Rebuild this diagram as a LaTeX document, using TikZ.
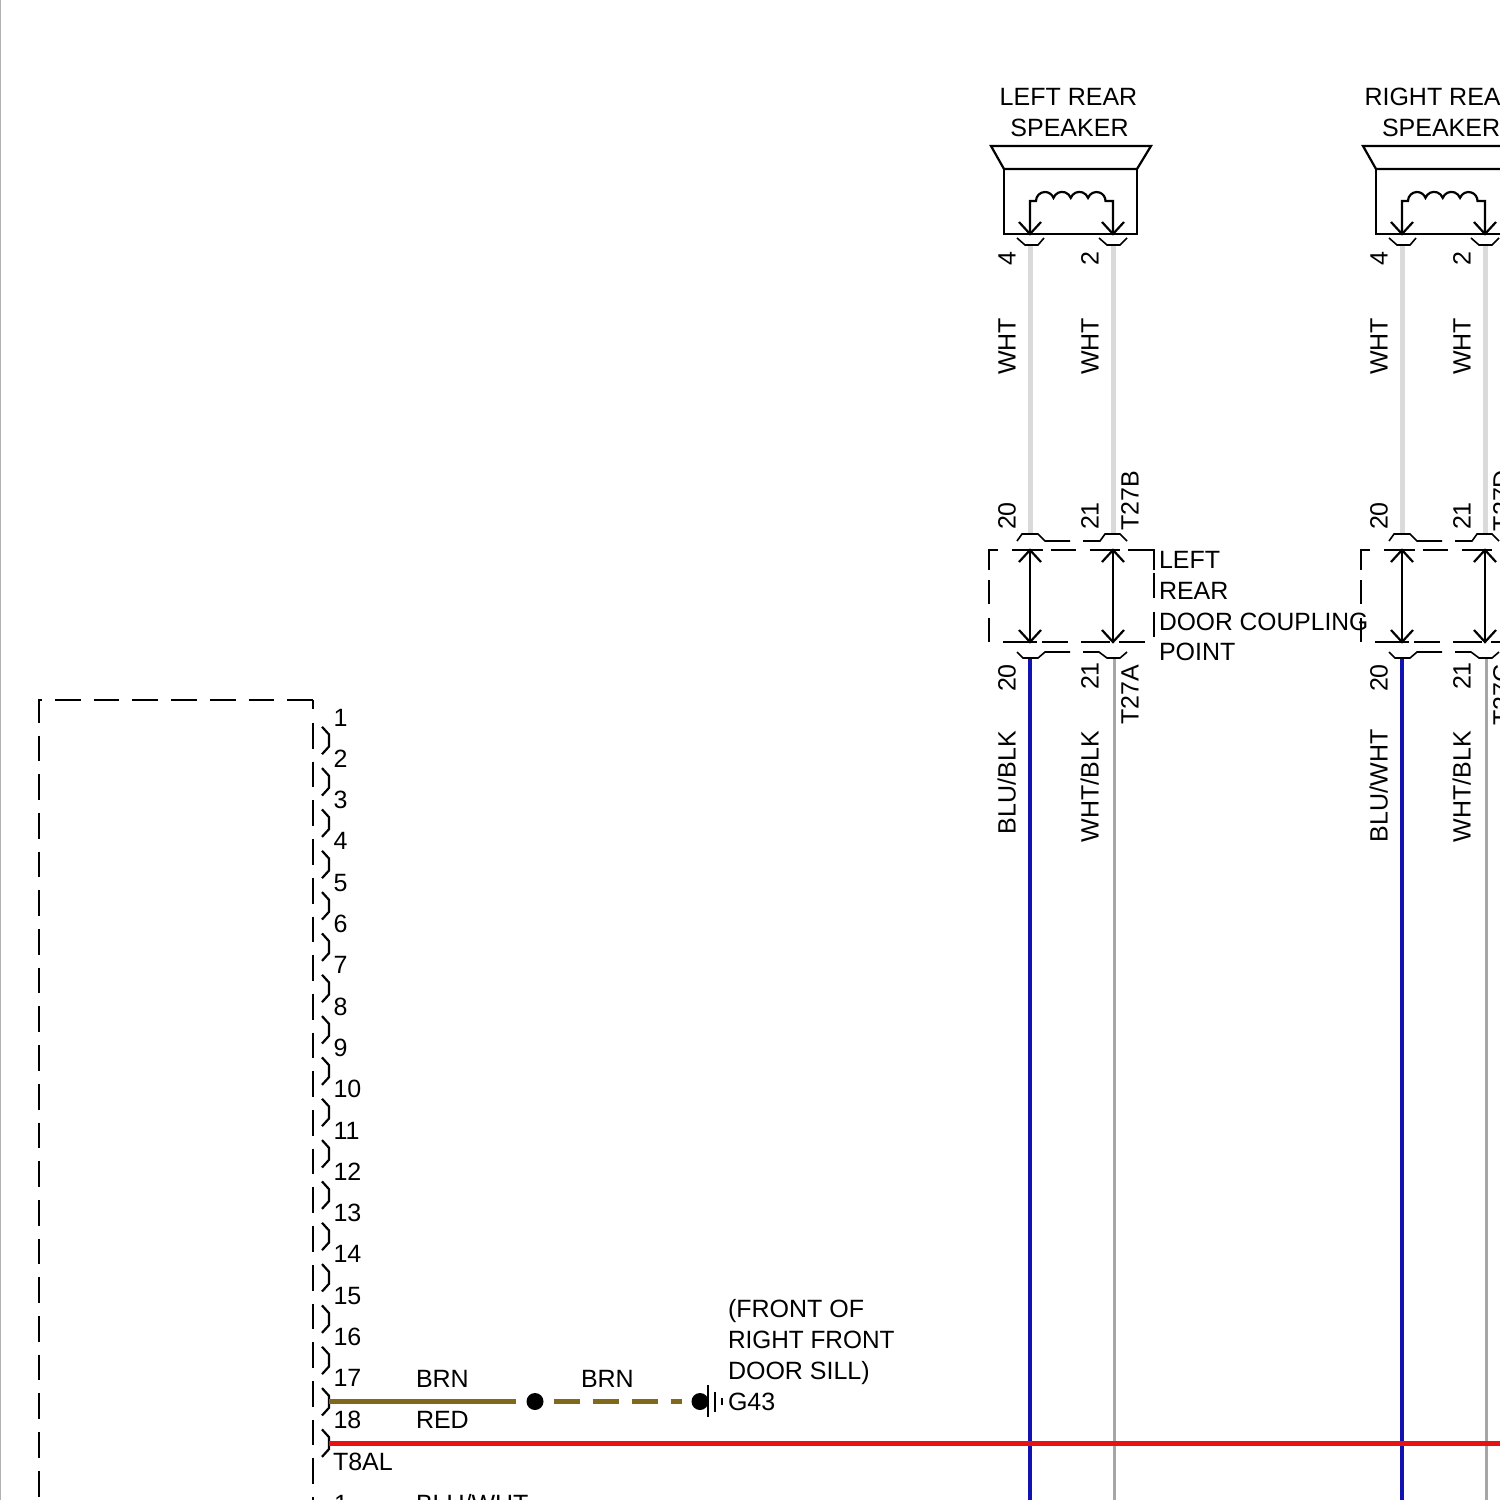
\documentclass[tikz,border=0pt]{standalone}
\usepackage{fontspec}
\setmainfont{Liberation Sans}
\usetikzlibrary{calc}
\definecolor{wht}{HTML}{DADADA}
\definecolor{gryw}{HTML}{A6A6A6}
\definecolor{bluw}{HTML}{1212B0}
\definecolor{brnw}{HTML}{80691A}
\definecolor{redw}{HTML}{E81212}
\tikzset{
  lbl/.style={inner sep=0pt,outer sep=0pt,font=\fontsize{25}{25}\selectfont,text height=18pt,text depth=0pt,anchor=west},
  clbl/.style={lbl,anchor=center},
  vlbl/.style={clbl,rotate=90},
  ink/.style={draw=black,line width=2.2pt,line join=miter},
  thin ink/.style={draw=black,line width=1.6pt},
  long dash/.style={ink,dash pattern=on 25.7pt off 13pt},
  wire/.style={line width=#1pt,line cap=butt},
}
\begin{document}
\begin{tikzpicture}[x=1pt,y=-1pt]
\useasboundingbox (0,0) rectangle (1500,1500);
\clip (0,0) rectangle (1500,1500);
\fill[white] (0,0) rectangle (1500,1500);
\draw[gray!60,line width=1.5pt] (0.5,0) -- (0.5,1500);

% main module
\draw[ink] (39,722.7) -- (39,700) -- (42,700);
\draw[long dash] (39,735.5) -- (39,1500);
\draw[long dash] (55,700) -- (313,700);
\draw[ink] (313,700) -- (313,709);
\draw[long dash] (313,723) -- (313,1500);
\foreach \n in {1,...,18}{
  \pgfmathsetmacro{\yy}{740.5+(\n-1)*41.33}
  \draw[ink] (322,\yy-13.7) -- (329,\yy-6) -- (329,\yy+6) -- (322,\yy+13.7);
  \pgfmathsetmacro{\ty}{717+(\n-1)*41.3}
  \node[lbl] (pin\n) at (333.5,\ty) {\n};
}
\node[lbl] (t8al) at (333,1461) {T8AL};
\node[lbl] (pinb) at (334,1503) {1};
\node[lbl] (bluwhtb) at (416,1503) {BLU/WHT};

% ground run
\node[lbl] (brn1) at (416,1378) {BRN};
\node[lbl] (red1) at (416,1419) {RED};
\node[lbl] (brn2) at (581,1378) {BRN};
\node[lbl] (loc1) at (728,1308) {(FRONT OF};
\node[lbl,xscale=.975] (loc2) at (728,1339) {RIGHT FRONT};
\node[lbl] (loc3) at (728,1370) {DOOR SILL)};
\node[lbl] (g43) at (728,1401) {G43};
\coordinate (s17) at (329,1401.5);
\node[circle,fill=black,inner sep=0pt,minimum size=17pt] (dot1) at (535,1401.5) {};
\node[circle,fill=black,inner sep=0pt,minimum size=17pt] (dot2) at (700,1401.5) {};
\coordinate (b1) at (516,1401.5);
\coordinate (b2) at (553.5,1401.5);
\coordinate (b3) at (682,1401.5);
\draw[brnw,wire=5] (s17) -- (b1);
\draw[brnw,wire=5,dash pattern=on 26pt off 13pt] (b2) -- (b3);
\draw[black,line width=2.2pt] (708,1385) -- (708,1417);
\draw[black,line width=2.2pt] (715,1392) -- (715,1412);
\draw[black,line width=2.2pt] (722,1398) -- (722,1405);

% speaker columns
\foreach \ox/\nm/\blu/\blb/\bt/\ct in {0/a/BLU\slash BLK/834/T27B/T27A,372/b/BLU\slash WHT/842/T27D/T27C}{
  \begin{scope}[shift={(\ox,0)}]
    % wires
    \draw[wht,wire=5] (1030.5,245) -- (1030.5,534);
    \draw[wht,wire=5] (1113.5,245) -- (1113.5,534);
    \draw[bluw,wire=4] (1030,657) -- (1030,1500);
    \draw[gryw,wire=3] (1114,657) -- (1114,1500);
    % speaker
    \draw[ink] (991,146) -- (1151,146) -- (1137,169) -- (1004,169) -- cycle;
    \draw[ink] (1004,169) rectangle (1137,234);
    \draw[ink] (1030,234) -- (1030,201) -- (1036,201)
      arc[start angle=-180,end angle=-20,radius=9]
      arc[start angle=-160,end angle=-20,radius=9.2]
      arc[start angle=-160,end angle=-20,radius=9.2]
      arc[start angle=-160,end angle=0,radius=9] -- (1113,201) -- (1113,234);
    \draw[ink] (1019,222) -- (1030,234) -- (1041,222);
    \draw[ink] (1102,222) -- (1113,234) -- (1124,222);
    \draw[thin ink] (1017,238) -- (1025,245) -- (1038,245) -- (1044,238);
    \draw[thin ink] (1099,238) -- (1107,245) -- (1120,245) -- (1127,238);
    % coupling hats
    \draw[thin ink] (1017,541) -- (1022,534) -- (1038,534) -- (1045,541) -- (1070,541);
    \draw[thin ink] (1083,541) -- (1100,541) -- (1105,534) -- (1120,534) -- (1127,541);
    \draw[thin ink] (1017,652) -- (1023,658) -- (1038,658) -- (1045,652) -- (1070,652);
    \draw[thin ink] (1083,652) -- (1099,652) -- (1107,658) -- (1120,658) -- (1127,652);
    % coupling dashed box
    \draw[ink] (998,550) -- (989,550) -- (989,570);
    \draw[ink] (989,580) -- (989,604);
    \draw[ink] (989,618) -- (989,642);
    \draw[ink] (1012,550) -- (1043,550);
    \draw[ink] (1051,550) -- (1076,550);
    \draw[ink] (1090,550) -- (1120,550);
    \draw[ink] (1128,550) -- (1154,550) -- (1154,570);
    \draw[ink] (1154,573) -- (1154,598);
    \draw[ink] (1154,612) -- (1154,637);
    \draw[ink] (1003,642) -- (1037,642);
    \draw[ink] (1042,642) -- (1068,642);
    \draw[ink] (1081,642) -- (1110,642);
    \draw[ink] (1119,642) -- (1145,642);
    % coupling arrows
    \draw[ink] (1030,550) -- (1030,642);
    \draw[ink] (1113,550) -- (1113,642);
    \draw[ink] (1019,562) -- (1030,550) -- (1041,562);
    \draw[ink] (1102,562) -- (1113,550) -- (1124,562);
    \draw[ink] (1019,630) -- (1030,642) -- (1041,630);
    \draw[ink] (1102,630) -- (1113,642) -- (1124,630);
    % rotated labels
    \node[vlbl] (p4\nm) at (1006.5,259) {4};
    \node[vlbl] (p2\nm) at (1089.5,259) {2};
    \node[vlbl] (wa\nm) at (1006.5,346.5) {WHT};
    \node[vlbl] (wb\nm) at (1089.5,346.5) {WHT};
    \node[vlbl] (ua\nm) at (1006.5,516) {20};
    \node[vlbl] (ub\nm) at (1089.5,516) {21};
    \node[vlbl] (tb\nm) at (1129.5,500.5) {\bt};
    \node[vlbl] (la\nm) at (1006.5,678) {20};
    \node[vlbl] (lb\nm) at (1089.5,676) {21};
    \node[vlbl] (tc\nm) at (1129.5,695) {\ct};
    \node[vlbl,anchor=west] (bl\nm) at (1006.5,\blb) {\blu};
    \node[vlbl,anchor=west] (wk\nm) at (1089.5,842) {WHT/BLK};
  \end{scope}
}

% speaker titles
\node[clbl] (lrs1) at (1068.5,96) {LEFT REAR};
\node[clbl] (lrs2) at (1069.5,127) {SPEAKER};
\node[lbl] (rrs1) at (1364.5,96) {RIGHT REAR};
\node[lbl] (rrs2) at (1382,127) {SPEAKER};
\node[lbl] (cp1) at (1159,559) {LEFT};
\node[lbl] (cp2) at (1159,590) {REAR};
\node[lbl,xscale=.985] (cp3) at (1159,621) {DOOR COUPLING};
\node[lbl] (cp4) at (1159,651) {POINT};

% feed wire
\coordinate (s18) at (329,1443);
\coordinate (eastend) at (1500,1443);
\draw[redw,wire=5] (s18) -- (eastend);
\end{tikzpicture}
\end{document}
